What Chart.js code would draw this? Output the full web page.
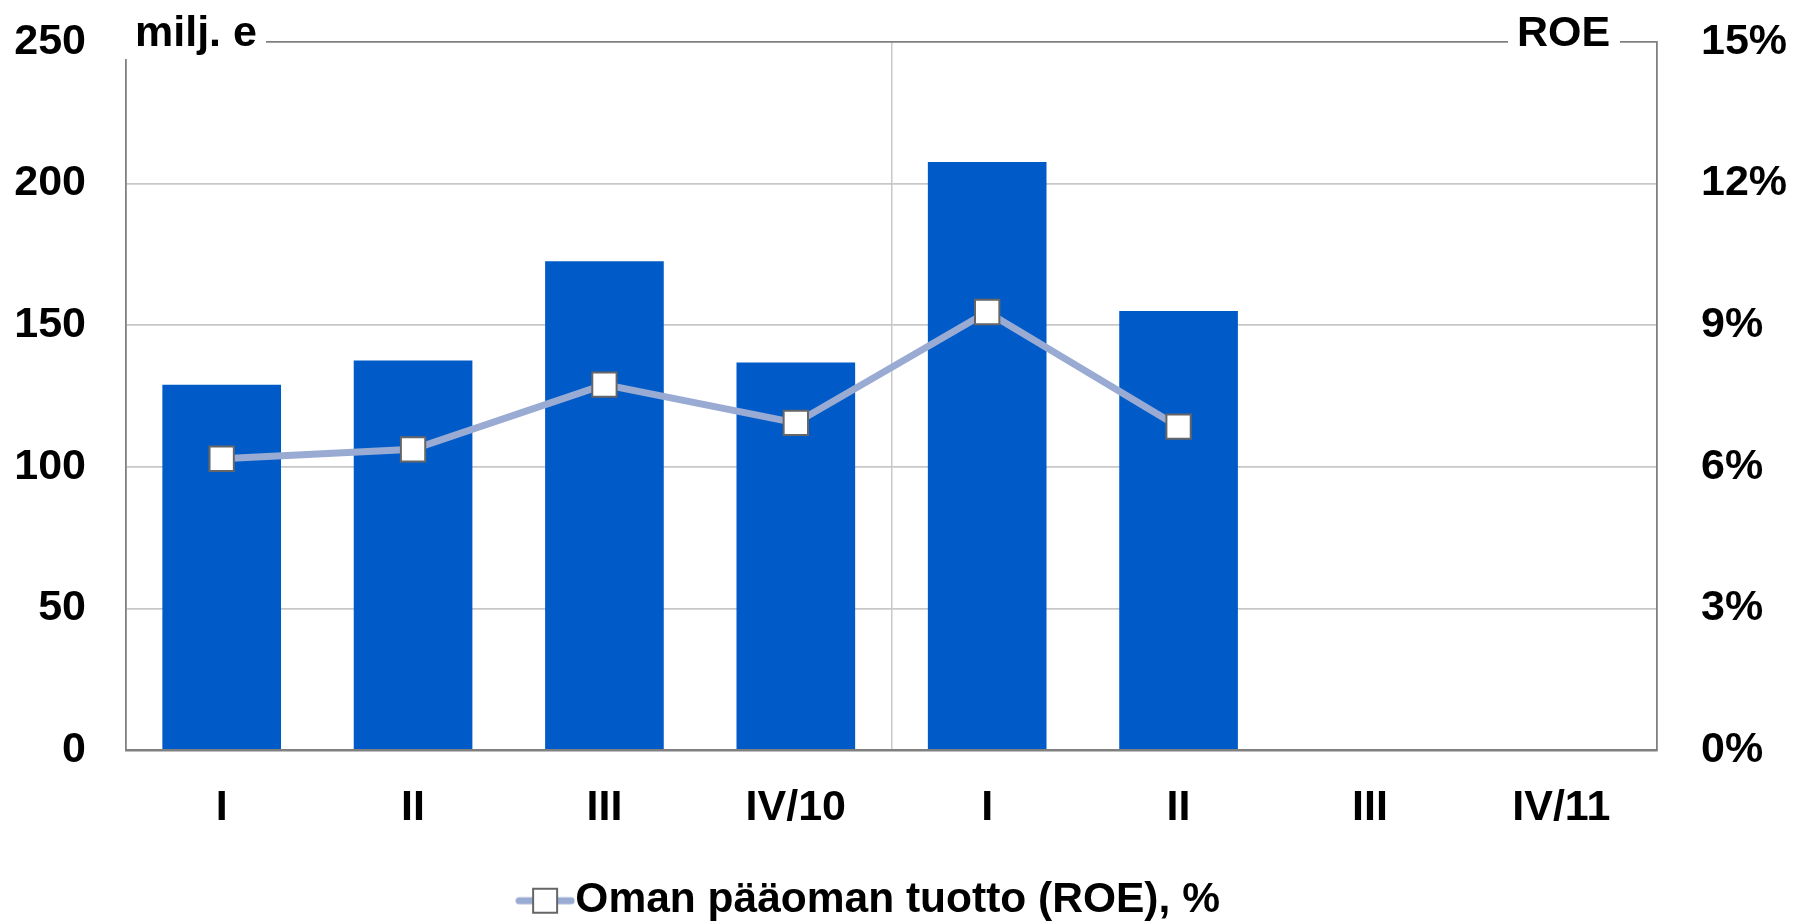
<!DOCTYPE html>
<html>
<head>
<meta charset="utf-8">
<script src="https://cdn.jsdelivr.net/npm/chart.js@4/dist/chart.umd.min.js"></script>
<style>
html,body{margin:0;padding:0;background:#fff;}
#wrap{width:1794px;height:924px;}
</style>
</head>
<body>
<div id="wrap"><canvas id="c" width="1794" height="924"></canvas></div>
<script>
const categories = ['I', 'II', 'III', 'IV/10', 'I', 'II', 'III', 'IV/11'];
const profitValues = [129, 137.5, 172.6, 136.8, 207.6, 155, null, null];
const roeValues = [6.17, 6.37, 7.74, 6.93, 9.28, 6.85, null, null];
const leftTitle = 'milj. e';
const rightTitle = 'ROE';
const roeLabel = 'Oman pääoman tuotto (ROE), %';

const FONT = '"Liberation Sans", Arial, sans-serif';
const LINE_COLOR = '#99abd3';
const BAR_COLOR = '#005bc8';

// legend symbol: line with a square marker
const sym = document.createElement('canvas');
sym.width = 60; sym.height = 30;
(function(){
  const g = sym.getContext('2d');
  g.strokeStyle = LINE_COLOR; g.lineWidth = 7; g.lineCap = 'round';
  g.beginPath(); g.moveTo(4, 15); g.lineTo(56, 15); g.stroke();
  g.fillStyle = '#fff'; g.strokeStyle = '#666'; g.lineWidth = 2;
  g.fillRect(18, 3, 24, 24); g.strokeRect(18, 3, 24, 24);
})();

const titlePlugin = {
  id: 'titles',
  afterLayout(chart) {
    const lg = chart.legend;
    if (lg) { lg.left -= 19; lg.right -= 19; lg.top += 8; lg.bottom += 8; }
  },
  afterDraw(chart) {
    const ctx = chart.ctx;
    ctx.save();
    ctx.fillStyle = '#fff';
    ctx.fillRect(118, 14, 148, 45);
    ctx.fillRect(1508, 14, 112, 40);
    ctx.fillStyle = '#000';
    ctx.font = 'bold 43px ' + FONT;
    ctx.textBaseline = 'alphabetic';
    ctx.textAlign = 'left';
    ctx.fillText(leftTitle, 135, 46);
    ctx.fillText(rightTitle, 1517, 46);
    ctx.restore();
  }
};

function noPad(scale) { scale.paddingTop = 0; scale.paddingBottom = 0; }

new Chart(document.getElementById('c'), {
  data: {
    labels: categories,
    datasets: [
      {
        type: 'line',
        label: roeLabel,
        data: roeValues,
        yAxisID: 'y1',
        borderColor: LINE_COLOR,
        borderWidth: 7,
        pointStyle: 'rect',
        pointRadius: 17.2,
        pointBackgroundColor: '#fff',
        pointBorderColor: '#666',
        pointBorderWidth: 2,
        tension: 0,
        order: 0
      },
      {
        type: 'bar',
        label: 'bars',
        data: profitValues,
        yAxisID: 'y',
        backgroundColor: BAR_COLOR,
        borderWidth: 0,
        barPercentage: 0.62,
        categoryPercentage: 1,
        order: 1
      }
    ]
  },
  options: {
    responsive: false,
    animation: false,
    layout: { padding: { top: 42, left: 0, right: 0, bottom: 0 } },
    plugins: {
      tooltip: { enabled: false },
      legend: {
        position: 'bottom',
        labels: {
          color: '#000',
          font: { family: FONT, size: 42.5, weight: 'bold' },
          usePointStyle: true,
          pointStyleWidth: 18,
          padding: 10,
          generateLabels(chart) {
            const items = Chart.defaults.plugins.legend.labels.generateLabels(chart);
            return items.filter(it => it.datasetIndex === 0).map(it => {
              it.pointStyle = sym;
              return it;
            });
          }
        }
      }
    },
    scales: {
      x: {
        offset: true,
        grid: {
          offset: true,
          drawTicks: false,
          color: (c) => (c.index === 4 ? '#c8c8c8' : 'rgba(0,0,0,0)'),
          lineWidth: 1.5
        },
        border: { color: '#808080', width: 2.5 },
        ticks: {
          color: '#000',
          font: { family: FONT, size: 43, weight: 'bold' },
          padding: 32,
          maxRotation: 0,
          autoSkip: false
        },
        afterFit(scale) {
          const lg = scale.chart.legend;
          const lh = lg && lg.height ? lg.height : 80;
          scale.height = 924 - 750 - lh;
          scale.paddingLeft = 0; scale.paddingRight = 0;
        }
      },
      y: {
        position: 'left',
        min: 0, max: 250,
        grid: {
          drawTicks: false,
          color: (c) => (c.tick && c.tick.value === 250 ? '#808080' : '#c8c8c8'),
          lineWidth: 1.8
        },
        border: { color: '#808080', width: 1.8 },
        ticks: {
          stepSize: 50,
          color: '#000',
          font: { family: FONT, size: 43, weight: 'bold' },
          padding: 40
        },
        afterFit(scale) { scale.width = 126; noPad(scale); }
      },
      y1: {
        position: 'right',
        min: 0, max: 15,
        grid: { display: false, drawTicks: false },
        border: { color: '#808080', width: 1.8 },
        ticks: {
          stepSize: 3,
          color: '#000',
          font: { family: FONT, size: 43, weight: 'bold' },
          padding: 44,
          callback: (v) => v + '%'
        },
        afterFit(scale) { scale.width = 137; noPad(scale); }
      }
    }
  },
  plugins: [titlePlugin]
});
</script>
</body>
</html>
